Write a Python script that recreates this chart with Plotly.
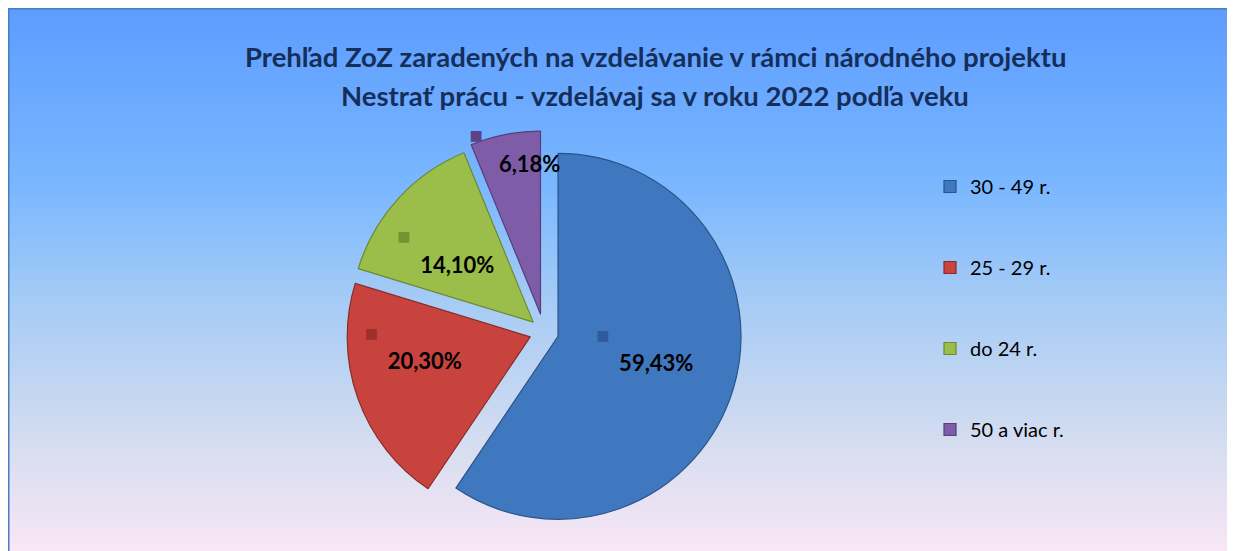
import plotly.graph_objects as go

# ---- data ----
categories = ["30 - 49 r.", "25 - 29 r.", "do 24 r.", "50 a viac r."]
shares = [59.43, 20.30, 14.10, 6.18]
title_lines = ["Prehľad ZoZ zaradených na vzdelávanie v rámci národného projektu",
               "Nestrať prácu - vzdelávaj sa v roku 2022 podľa veku"]

# ---- styles ----
W, H = 1227, 543   # page body margin of 8px completes the 1235x551 window
slice_colors = ["#3F78BE", "#C8433E", "#9BBD4A", "#7E5CA8"]
edge_colors = ["#2B5489", "#8A2B28", "#6B8A2F", "#573E7C"]
key_colors = ["#2F5C99", "#9E302C", "#74922F", "#5E4186"]
pulls = [0.08, 0.08, 0.08, 0.10]
# label layout per slice: (leading pad, blank lines above, blank lines below)
label_pad = [(4, 0, 1), (1, 0, 2), (7, 1, 0), (7, 0, 1)]

fig = go.Figure()

# gradient background (stacked strips)
stops = [(0, (93, 156, 255)), (172, (120, 182, 255)), (292, (165, 203, 245)),
         (442, (215, 222, 240)), (543, (248, 230, 246))]

def col_at(y):
    for (y0, c0), (y1, c1) in zip(stops[:-1], stops[1:]):
        if y0 <= y <= y1:
            t = (y - y0) / (y1 - y0)
            return "rgb(%d,%d,%d)" % tuple(round(a + (b - a) * t) for a, b in zip(c0, c1))
    return "rgb(%d,%d,%d)" % stops[-1][1]

shapes = []
step = 4
y = 0
while y < H:
    yb = min(y + step, H)
    shapes.append(dict(type="rect", xref="paper", yref="paper", layer="below",
                       x0=0, x1=1, y0=1 - yb / H, y1=1 - y / H,
                       fillcolor=col_at(y + step / 2), line=dict(width=0)))
    y = yb
# frame lines
shapes.append(dict(type="line", xref="paper", yref="paper", layer="below",
                   x0=0, x1=1, y0=1, y1=1, line=dict(color="#4A7EBB", width=3)))
shapes.append(dict(type="line", xref="paper", yref="paper", layer="below",
                   x0=0, x1=0, y0=0, y1=1, line=dict(color="#4A7EBB", width=3)))

NB = "\u00a0"
texts = []
for kc, v, (pad, above, below) in zip(key_colors, shares, label_pad):
    lines = [NB] * above
    lines.append(NB * pad + "<span style='color:%s'>■</span>" % kc + NB * 20)
    lines.append(NB * pad + ("%.2f" % v).replace(".", ",") + "%")
    lines += [NB] * below
    texts.append("<br>".join(lines))

fig.add_trace(go.Pie(
    labels=[NB + "<br>" + c + "<br>" + NB for c in categories],
    values=shares,
    text=texts,
    textinfo="text",
    textposition="inside",
    insidetextorientation="horizontal",
    insidetextfont=dict(family="Lato", size=22, color="black", weight="bold"),
    marker=dict(colors=slice_colors, line=dict(color=edge_colors, width=1.2)),
    pull=pulls,
    sort=False,
    direction="clockwise",
    rotation=0,
    domain=dict(x=[0.2728, 0.6009], y=[0.0326, 0.774]),
    hovertext=categories,
    hoverinfo="text+value",
))

annotations = []
for i, line in enumerate(title_lines):
    ypix = [49, 87][i]
    annotations.append(dict(text=line, x=647 / W, y=1 - ypix / H, xref="paper", yref="paper",
                            xanchor="center", yanchor="middle", showarrow=False,
                            font=dict(family="Lato", size=27.5, color="#152E5A", weight="bold")))

fig.update_layout(
    width=W, height=H,
    margin=dict(l=0, r=0, t=0, b=0),
    paper_bgcolor="white",
    shapes=shapes,
    annotations=annotations,
    uniformtext=dict(minsize=22, mode="show"),
    showlegend=True,
    legend=dict(x=922 / W, y=1 - 133 / H, xanchor="left", yanchor="top",
                bgcolor="rgba(0,0,0,0)", font=dict(family="Lato", size=20, color="black"),
                valign="middle"),
)

fig.write_html("out.html")
